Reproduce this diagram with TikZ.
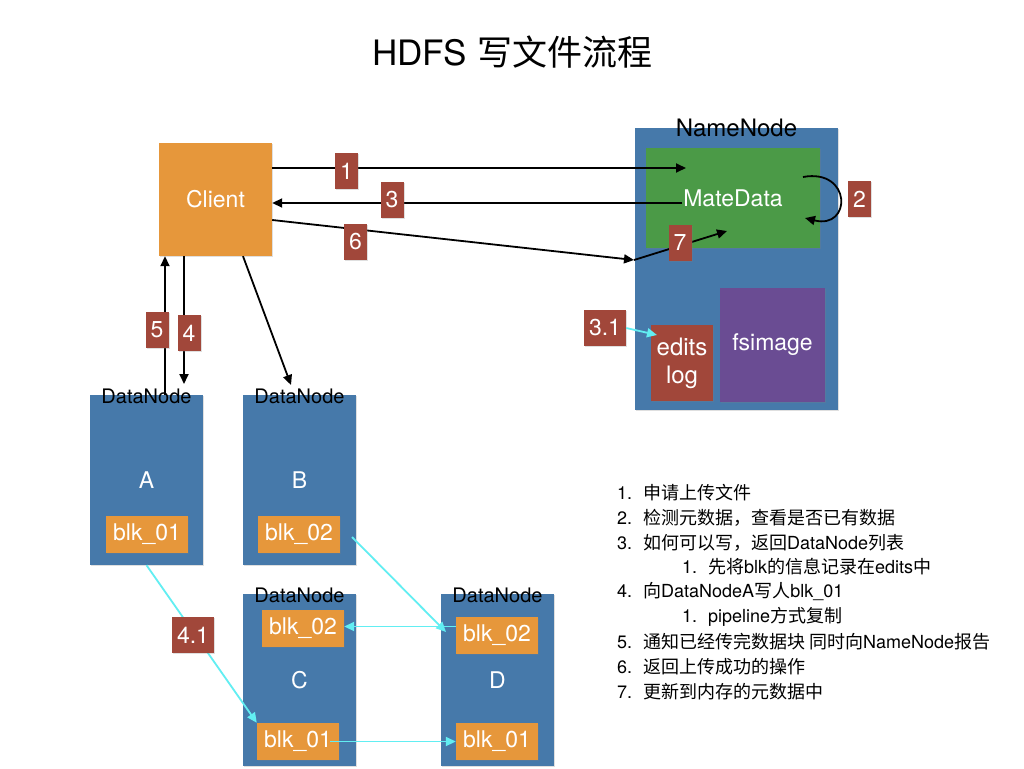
\documentclass[tikz,border=0pt]{standalone}
\usepackage{fontspec}
\setmainfont{TeX Gyre Heros}
\newfontfamily\cjk{Noto Sans CJK SC}
\newcommand\zhs[1]{{\cjk #1}}
\usetikzlibrary{arrows.meta,shadows}
\definecolor{nodeblue}{HTML}{4679AA}
\definecolor{cliorange}{HTML}{E6973B}
\definecolor{metagreen}{HTML}{4B9A47}
\definecolor{imgpurple}{HTML}{6A4C93}
\definecolor{tagred}{HTML}{A1473A}
\definecolor{copycyan}{HTML}{62EEF2}
\tikzset{
  box/.style={inner sep=0pt,text=white,align=center,font=\fontsize{23}{28}\selectfont,
    drop shadow={shadow xshift=1pt,shadow yshift=-1pt,opacity=0.25}},
  dnbox/.style={box,fill=nodeblue,minimum width=113pt,minimum height=170pt},
  blkbox/.style={box,fill=cliorange,minimum width=82pt,minimum height=37pt},
  tagbox/.style={box,fill=tagred,minimum width=23pt,minimum height=36pt},
  dncap/.style={inner sep=0pt,font=\fontsize{20}{24}\selectfont},
  flowline/.style={->,line width=1.8pt},
  copyline/.style={->,draw=copycyan,line width=1.8pt},
  legendtxt/.style={anchor=west,inner sep=0pt,font=\fontsize{18}{21}\selectfont},
}
\begin{document}
\begin{tikzpicture}[x=1pt,y=-1pt,>={Triangle[length=10pt,width=9pt]}]
\useasboundingbox[fill=white] (0,0) rectangle (1024,768);
\node[font=\fontsize{35}{40}\selectfont] (title) at (512,52) {HDFS \zhs{写文件流程}};

\node[box,fill=nodeblue,minimum width=203pt,minimum height=282pt] (nn) at (736.5,269) {};
\node[box,fill=metagreen,minimum width=174pt,minimum height=100pt] (meta) at (733,198) {MateData};
\node[box,fill=imgpurple,minimum width=105pt,minimum height=114pt] (fsimage) at (772.5,345) {fsimage};
\node[box,fill=tagred,minimum width=62pt,minimum height=76pt,font=\fontsize{24}{28}\selectfont] (edits) at (682,363) {edits\\log};
\node[dncap,font=\fontsize{24}{28}\selectfont] (nnlabel) at (nn.north) {NameNode};

\node[box,fill=cliorange,minimum width=113pt,minimum height=113pt] (client) at (215.5,199.5) {Client};

\node[dnbox] (dnA) at (146.5,480) {A};
\node[dnbox] (dnB) at (299.5,480) {B};
\node[dnbox,minimum height=172pt] (dnC) at (299.5,680) {C};
\node[dnbox,minimum height=172pt] (dnD) at (497.5,680) {D};
\node[dncap] (capA) at ([yshift=-2pt]dnA.north) {DataNode};
\node[dncap] (capB) at ([yshift=-2pt]dnB.north) {DataNode};
\node[dncap] (capC) at ([yshift=-2pt]dnC.north) {DataNode};
\node[dncap] (capD) at ([yshift=-2pt]dnD.north) {DataNode};

\node[blkbox] (A1) at (147,534.5) {blk\_01};
\node[blkbox] (B2) at (299,534.5) {blk\_02};
\node[blkbox] (C2) at (303,628.5) {blk\_02};
\node[blkbox] (C1) at (298,741.5) {blk\_01};
\node[blkbox] (D2) at (497,635.5) {blk\_02};
\node[blkbox] (D1) at (497,741.5) {blk\_01};

\coordinate (m1) at (686,168);
\coordinate (m3) at (682,203);
\coordinate (p6) at (634,260);
\coordinate (m7) at (727,231);
\coordinate (s2a) at (803,177);
\coordinate (s2b) at (805,218);
\coordinate (t4) at (184,384);
\coordinate (tB) at (291,385);
\coordinate (e31) at (657,335);
\coordinate (b2out) at (352,537);
\coordinate (d2in) at (446,632);

\draw[flowline] ([yshift=31.5pt]client.east) -- (m1);
\draw[flowline] (m3) -- ([yshift=-3.5pt]client.east);
\draw[flowline] ([yshift=-20.5pt]client.east) -- (p6);
\draw[flowline] (p6) -- (m7);
\draw[flowline] (s2a) .. controls (852,168) and (852,230) .. (s2b);
\draw[flowline] ([xshift=18.5pt]dnA.north) -- ([xshift=-50.5pt]client.south);
\draw[flowline] ([xshift=-31.5pt]client.south) -- (t4);
\draw[flowline] ([xshift=27.5pt]client.south) -- (tB);

\draw[copyline] (dnA.south) -- (C1.north west);
\draw[copyline] (b2out) -- (d2in);
\draw[copyline] ([yshift=9pt]D2.west) -- ([yshift=2pt]C2.east);
\draw[copyline] ([xshift=-9pt]C1.east) -- (D1.west);

\node[tagbox] (l1) at (346.5,171) {1};
\node[tagbox] (l3) at (392,200) {3};
\node[tagbox] (l6) at (355.5,242) {6};
\node[tagbox] (l2) at (859.5,199) {2};
\node[tagbox] (l7) at (680,243) {7};
\node[tagbox,minimum width=42pt] (l31) at (605,328) {3.1};
\node[tagbox] (l5) at (157,330) {5};
\node[tagbox] (l4) at (189,333) {4};
\node[tagbox,minimum width=42pt] (l41) at (193,635) {4.1};
\draw[copyline] (l31.east) -- (e31);

\node[legendtxt] (n1) at (617,493) {\makebox[26pt][l]{1.}\zhs{申请上传文件}};
\node[legendtxt] (n2) at (617,518) {\makebox[26pt][l]{2.}\zhs{检测元数据，查看是否已有数据}};
\node[legendtxt] (n3) at (617,543) {\makebox[26pt][l]{3.}\zhs{如何可以写，返回}DataNode\zhs{列表}};
\node[legendtxt] (n31) at (682,567) {\makebox[26pt][l]{1.}\zhs{先将}blk\zhs{的信息记录在}edits\zhs{中}};
\node[legendtxt] (n4) at (617,592) {\makebox[26pt][l]{4.}\zhs{向}DataNodeA\zhs{写人}blk\_01};
\node[legendtxt] (n41) at (682,617) {\makebox[26pt][l]{1.}pipeline\zhs{方式复制}};
\node[legendtxt] (n5) at (617,642) {\makebox[26pt][l]{5.}\zhs{通知已经传完数据块 同时向}NameNode\zhs{报告}};
\node[legendtxt] (n6) at (617,667) {\makebox[26pt][l]{6.}\zhs{返回上传成功的操作}};
\node[legendtxt] (n7) at (617,692) {\makebox[26pt][l]{7.}\zhs{更新到内存的元数据中}};
\end{tikzpicture}
\end{document}
